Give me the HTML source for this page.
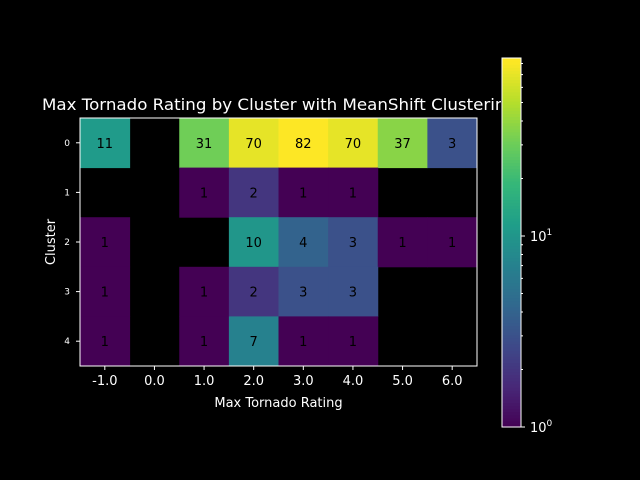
<!DOCTYPE html>
<html><head><meta charset="utf-8"><style>
html,body{margin:0;padding:0;background:#000;overflow:hidden;width:640px;height:480px;}
svg{display:block;}
svg text{font-family:"DejaVu Sans","Liberation Sans",sans-serif;}
</style></head><body>
<svg id="chart" width="640" height="480" xmlns="http://www.w3.org/2000/svg">
<rect width="640" height="480" fill="#000"/>
</svg>
<script>
const xCategories = ["-1.0","0.0","1.0","2.0","3.0","4.0","5.0","6.0"];
const yCategories = ["0","1","2","3","4"];
const row0 = [11,null,31,70,82,70,37,3];
const row1 = [null,null,1,2,1,1,null,null];
const row2 = [1,null,null,10,4,3,1,1];
const row3 = [1,null,1,2,3,3,null,null];
const row4 = [1,null,1,7,1,1,null,null];
const rows = [row0,row1,row2,row3,row4];
const vmin = 1, vmax = 82;
const cbTickLabels = ["0","1"];

const NS="http://www.w3.org/2000/svg";
const svg=document.getElementById('chart');
function mk(t,a,p){const e=document.createElementNS(NS,t);for(const k in a)e.setAttribute(k,a[k]);(p||svg).appendChild(e);return e;}
const stops=["#440154","#482878","#3e4989","#31688e","#26828e","#1f9e89","#35b779","#6ece58","#b5de2b","#fde725"];
function hex(h){return [1,3,5].map(i=>parseInt(h.substr(i,2),16));}
function viridis(t){t=Math.max(0,Math.min(1,t));const p=t*9,i=Math.min(8,Math.floor(p)),f=p-i;const a=hex(stops[i]),b=hex(stops[i+1]);return `rgb(${a.map((v,k)=>Math.round(v+(b[k]-v)*f)).join(',')})`;}
function norm(v){return Math.log(v/vmin)/Math.log(vmax/vmin);}
const L=80,R=477,T=118,B=366;
const cw=(R-L)/xCategories.length, ch=(B-T)/yCategories.length;
function xPos(i){return L+i*cw;}
function yPos(j){return T+j*ch;}

let t=mk('text',{x:42,y:110,fill:'#fff','font-size':16,textLength:474,lengthAdjust:'spacingAndGlyphs'});
t.textContent='Max Tornado Rating by Cluster with MeanShift Clustering';



rows.forEach((r,j)=>r.forEach((v,i)=>{
  if(v===null)return;
  const c=mk('rect',{x:xPos(i),y:yPos(j),width:cw+0.5,height:ch+0.5,fill:viridis(norm(v))});
  
  
  const tx=mk('text',{x:xPos(i)+cw/2,y:yPos(j)+ch/2+5,fill:'#000','font-size':13,'text-anchor':'middle'});
  tx.textContent=v;
  
  
}));
const fr=mk('rect',{x:L,y:T,width:R-L,height:B-T,fill:'none',stroke:'#fff','stroke-width':1});


xCategories.forEach((s,i)=>{
  const x=xPos(i)+cw/2;
  mk('line',{x1:x,x2:x,y1:B,y2:B+4,stroke:'#fff'});
  const e=mk('text',{x:x,y:B+19,fill:'#fff','font-size':13,'text-anchor':'middle'});e.textContent=s;
  
  
});
yCategories.forEach((s,j)=>{
  const y=yPos(j)+ch/2;
  mk('line',{x1:L-4,x2:L,y1:y,y2:y,stroke:'#fff'});
  const e=mk('text',{x:L-10,y:y+3,fill:'#fff','font-size':9,'text-anchor':'end'});e.textContent=s;
  
  
});
let xl=mk('text',{x:(L+R)/2,y:407,fill:'#fff','font-size':13,'text-anchor':'middle'});xl.textContent='Max Tornado Rating';


let yl=mk('text',{x:0,y:0,fill:'#fff','font-size':13,'text-anchor':'middle',transform:`translate(55,${(T+B)/2}) rotate(-90)`});yl.textContent='Cluster';



const cbL=502,cbR=521,cbT=58,cbB=427;
const dec=191;
function cbY(v){return cbB-Math.log10(v/vmin)*dec;}
mk('rect',{x:cbL-1,y:cbT-2,width:cbR-cbL+2,height:cbB-cbT+4,fill:'#000'});
const g=mk('g',{});


for(let k=0;k<120;k++){
  const y0=cbB-(cbB-cbT)*k/120,y1=cbB-(cbB-cbT)*(k+1)/120;
  const v=Math.pow(10,(cbB-(y0+y1)/2)/dec);
  mk('rect',{x:cbL,y:y1,width:cbR-cbL,height:y0-y1+0.6,fill:viridis(norm(v))},g);
}
mk('rect',{x:cbL,y:cbT,width:cbR-cbL,height:cbB-cbT,fill:'none',stroke:'#fff'},g);
cbTickLabels.forEach((p,k)=>{
  const y=cbY(Math.pow(10,k));
  mk('line',{x1:cbR,x2:cbR+4,y1:y,y2:y,stroke:'#fff'});
  const e=mk('text',{x:cbR+9,y:y+5,fill:'#fff','font-size':13});
  e.textContent='10';
  const s=mk('tspan',{'font-size':9,dy:-6},e);s.textContent=p;
  
  
});
for(let d=0;d<2;d++)for(let m=2;m<=9;m++){
  const v=m*Math.pow(10,d);if(v>vmax*1.05)continue;
  const y=cbY(v);if(y<cbT)continue;
  mk('line',{x1:cbR,x2:cbR+2,y1:y,y2:y,stroke:'#fff'});
}
</script>
</body></html>
